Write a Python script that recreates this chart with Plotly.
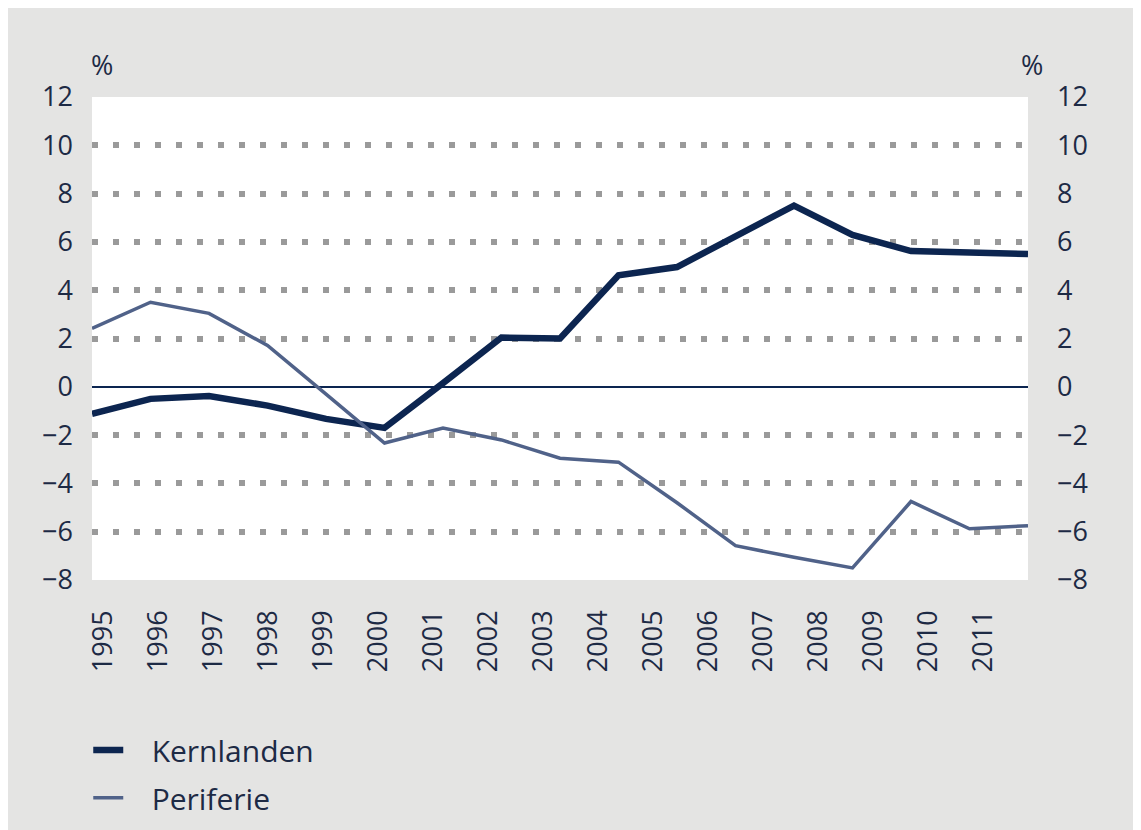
import plotly.graph_objects as go

years = [str(y) for y in range(1995, 2012)]
kernlanden = [-1.12, -0.5, -0.38, -0.78, -1.33, -1.7, 0.15, 2.04, 2.0, 4.62, 4.96,
              6.23, 7.5, 6.29, 5.62, 5.56, 5.5]
periferie = [2.42, 3.5, 3.04, 1.71, -0.3, -2.33, -1.71, -2.2, -2.96, -3.12, -4.8,
             -6.58, -7.06, -7.5, -4.75, -5.88, -5.75]
y_ticks = list(range(-8, 13, 2))
grid_vals = [v for v in y_ticks if v not in (-8, 0, 12)]

idx = list(range(len(years)))
label_pos = [0.19 + 0.94 * i for i in idx]

NAVY = "#0c2550"
SLATE = "#506289"
TXT = "#1d2a45"
BG = "#e4e4e3"
FONT = "Open Sans"
PAD = "\u00a0\u00a0\u00a0"

fig = go.Figure()
# empty helper trace so that the grid-only overlay axis is rendered
fig.add_trace(go.Scatter(x=[None], y=[None], yaxis="y3", showlegend=False,
                         hoverinfo="skip", mode="lines"))
fig.add_trace(go.Scatter(x=idx, y=kernlanden, name=PAD + "Kernlanden", mode="lines",
                         line=dict(color=NAVY, width=6.5), yaxis="y", legend="legend"))
fig.add_trace(go.Scatter(x=idx, y=periferie, name=PAD + "Periferie", mode="lines",
                         line=dict(color=SLATE, width=3.5), yaxis="y2", legend="legend2"))

leg_common = dict(xanchor="left", yanchor="middle", bgcolor="rgba(0,0,0,0)",
                  font=dict(size=30, color=TXT, family=FONT))

fig.update_layout(
    width=1141, height=830,
    paper_bgcolor=BG, plot_bgcolor="white",
    margin=dict(l=84, r=121, t=89, b=258),
    font=dict(family=FONT, size=26, color=TXT),
    xaxis=dict(range=[0, 16], tickvals=label_pos, ticktext=years, tickangle=-90,
               showgrid=False, zeroline=False, showline=False, ticks="",
               ticklabelstandoff=24, tickfont=dict(size=27, color=TXT)),
    yaxis=dict(range=[-8, 12], tickvals=y_ticks, showgrid=False,
               zeroline=True, zerolinecolor=NAVY, zerolinewidth=2,
               showline=False, ticks="", ticklabelstandoff=18,
               tickfont=dict(size=27, color=TXT)),
    yaxis2=dict(range=[-8, 12], tickvals=y_ticks, overlaying="y", side="right",
                showgrid=False, zeroline=False, showline=False, ticks="",
                ticklabelstandoff=28, tickfont=dict(size=27, color=TXT)),
    yaxis3=dict(range=[-8, 12], tickvals=grid_vals, overlaying="y", side="left",
                showgrid=True, gridcolor="#9a9a9a", gridwidth=5.5, griddash="5.5px,15.5px",
                zeroline=False, showline=False, ticks="", showticklabels=False),
    legend=dict(x=-0.004, y=-0.352, **leg_common),
    legend2=dict(x=-0.004, y=-0.451, **leg_common),
    showlegend=True,
    annotations=[
        dict(text="%", xref="paper", yref="paper", x=0.0, y=1.0, xanchor="center",
             yanchor="bottom", yshift=12, xshift=10, showarrow=False,
             font=dict(size=27, color=TXT)),
        dict(text="%", xref="paper", yref="paper", x=1.0, y=1.0, xanchor="center",
             yanchor="bottom", yshift=12, xshift=4, showarrow=False,
             font=dict(size=27, color=TXT)),
    ],
)

fig.write_html("out.html")
